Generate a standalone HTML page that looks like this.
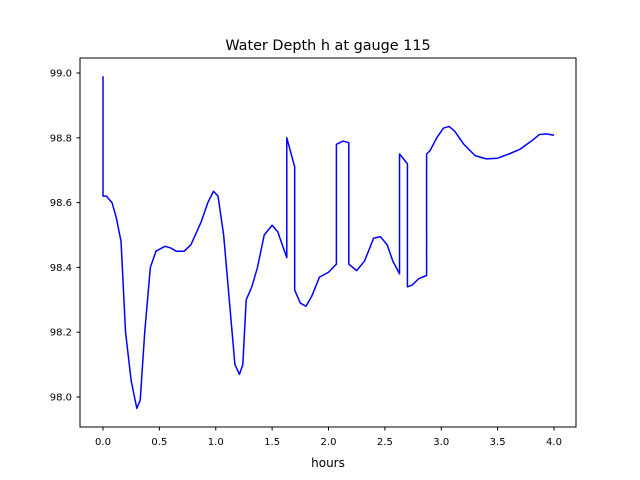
<!DOCTYPE html>
<html><head><meta charset="utf-8"><style>
body{margin:0;background:#fff;}
svg{display:block;font-family:"DejaVu Sans","Liberation Sans",sans-serif;}
</style></head><body>
<svg id="chart" width="640" height="480" viewBox="0 0 640 480">
<rect width="640" height="480" fill="#fff"/>
<text x="328" y="50" font-size="14.4" text-anchor="middle" fill="#000">Water Depth h at gauge 115</text>
<g id="plot"></g>
<rect x="80" y="58" width="496" height="369" fill="none" stroke="#000" stroke-width="1"/>
<text x="328" y="467" font-size="12" text-anchor="middle" fill="#000">hours</text>
</svg>
<script>
const xTicks=[0,0.5,1,1.5,2,2.5,3,3.5,4];
const xTickLabels=["0.0","0.5","1.0","1.5","2.0","2.5","3.0","3.5","4.0"];
const yTicks=[98.0,98.2,98.4,98.6,98.8,99.0];
const yTickLabels=["98.0","98.2","98.4","98.6","98.8","99.0"];
const hours=[0,0,0.03,0.08,0.12,0.16,0.2,0.25,0.3,0.33,0.37,0.42,0.47,0.55,0.6,0.65,0.72,0.78,0.87,0.93,0.98,1.02,1.07,1.12,1.17,1.21,1.24,1.27,1.32,1.37,1.43,1.5,1.55,1.6,1.63,1.63,1.7,1.7,1.75,1.8,1.85,1.92,2.0,2.07,2.07,2.13,2.18,2.18,2.25,2.32,2.4,2.46,2.52,2.57,2.63,2.63,2.7,2.7,2.74,2.8,2.87,2.87,2.9,2.96,3.02,3.07,3.12,3.2,3.3,3.4,3.5,3.6,3.7,3.8,3.87,3.93,4.0];
const depth=[98.99,98.62,98.62,98.6,98.55,98.48,98.2,98.05,97.965,97.99,98.2,98.4,98.45,98.465,98.46,98.45,98.45,98.47,98.54,98.6,98.635,98.62,98.5,98.3,98.1,98.07,98.1,98.3,98.34,98.4,98.5,98.53,98.51,98.46,98.43,98.8,98.71,98.33,98.29,98.28,98.31,98.37,98.385,98.41,98.78,98.79,98.785,98.41,98.39,98.42,98.49,98.495,98.47,98.42,98.38,98.75,98.72,98.34,98.345,98.365,98.375,98.75,98.76,98.8,98.83,98.835,98.82,98.78,98.745,98.735,98.737,98.75,98.765,98.79,98.81,98.812,98.808];
const NS="http://www.w3.org/2000/svg";
const X=v=>103+v*112.75;
const Y=v=>397-(v-98)*324;
const g=document.getElementById('plot');
function mk(t,a){const e=document.createElementNS(NS,t);for(const k in a)e.setAttribute(k,a[k]);g.appendChild(e);return e;}
xTicks.forEach((t,i)=>{
 const l=mk('line',{x1:X(t),x2:X(t),y1:427,y2:430.5,stroke:'#000'});
 
 
 const tx=mk('text',{x:X(t),y:445,'font-size':10,'text-anchor':'middle'});
 tx.textContent=xTickLabels[i];
 
 
});
yTicks.forEach((t,i)=>{
 const l=mk('line',{x1:76.5,x2:80,y1:Y(t),y2:Y(t),stroke:'#000'});
 
 
 const tx=mk('text',{x:72,y:Y(t)+3.5,'font-size':10,'text-anchor':'end'});
 tx.textContent=yTickLabels[i];
 
 
});
const p=mk('polyline',{points:hours.map((h,i)=>X(h)+','+Y(depth[i])).join(' '),fill:'none',stroke:'#0000ff','stroke-width':1.5,'stroke-linejoin':'round'});


</script>
</body></html>
